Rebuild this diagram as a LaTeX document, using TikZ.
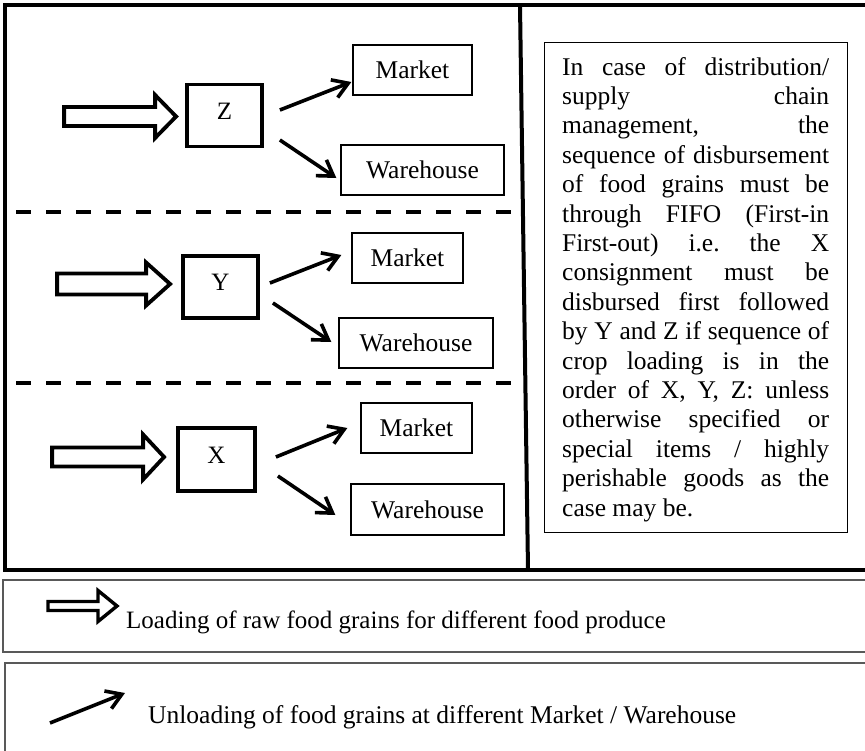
\documentclass[tikz,border=0pt]{standalone}
\usepackage{fontspec}
\setmainfont{Liberation Serif}
\usetikzlibrary{arrows.meta,calc}

% Hollow block arrow: #1 tip, #2 total length, #3 head length,
% #4 half head width, #5 half body width, #6 line width
\newcommand\hollowarrow[6]{%
  \draw[line width=#6, line join=miter] (#1) -- ++(-#3,-#4) -- ++(0,#4-#5)
    -- ++(-#2+#3,0) -- ++(0,2*#5) -- ++(#2-#3,0) -- ++(0,#4-#5) -- cycle;}

\tikzset{
  frameline/.style={line width=4pt},
  lotbox/.style={draw, line width=3.8pt, minimum width=75pt, minimum height=62pt,
    inner sep=0pt, font=\fontsize{25}{30}\selectfont, text height=16.6pt, text depth=9pt},
  destbox/.style={draw, line width=1.3pt, minimum height=50pt, inner sep=0pt,
    font=\fontsize{25.5}{30}\selectfont},
  unload/.style={line width=3.6pt, -{Straight Barb[length=15pt,width=19pt]}},
  sepline/.style={line width=3.8pt, dash pattern=on 15pt off 15pt},
  legendframe/.style={draw=black!65, line width=1.5pt},
  notebox/.style={draw, line width=1.2pt, minimum width=303pt, minimum height=490pt,
    inner sep=0pt, anchor=north west},
}

\begin{document}
\frenchspacing
\begin{tikzpicture}[x=1pt, y=-1pt]
\useasboundingbox (0,0) rectangle (865,750);
\clip (0,0) rectangle (865,750);

% outer frame and divider
\draw[frameline] (880,5) -- (5,5) -- (5,570) -- (880,570);
\draw[frameline] (520,5) -- (528,570);

% dashed separators between lots
\draw[sepline] (16,212) -- (522,212);
\draw[sepline] (16,383) -- (524,383);

% ---- lot Z ----
\node[lotbox] (boxZ) at (224.5,115.5) {Z};
\node[destbox, minimum width=119pt] (mktZ) at (412.5,70) {Market};
\node[destbox, minimum width=163pt] (whZ) at (422.5,170) {Warehouse};
\coordinate (inZ) at ($(boxZ.west)+(-9,1)$);
\hollowarrow{inZ}{112}{21}{21.5}{9.5}{3.8pt}
\draw[unload] ($(boxZ.east)+(16,-5.5)$) -- ($(mktZ.west)+(-1,12)$);
\draw[unload] ($(boxZ.east)+(16,24.5)$) -- ($(whZ.west)+(-4,8)$);

% ---- lot Y ----
\node[lotbox] (boxY) at (220.5,287) {Y};
\node[destbox, minimum width=111pt] (mktY) at (407.5,258) {Market};
\node[destbox, minimum width=154pt] (whY) at (416,343) {Warehouse};
\coordinate (inY) at ($(boxY.west)+(-11,-3)$);
\hollowarrow{inY}{113}{24}{21.5}{10.5}{3.8pt}
\draw[unload] ($(boxY.east)+(10,-4)$) -- ($(mktY.west)+(-10,-3)$);
\draw[unload] ($(boxY.east)+(13,16)$) -- ($(whY.west)+(-7,-1)$);

% ---- lot X ----
\node[lotbox, minimum width=77pt, minimum height=63pt] (boxX) at (216.5,459.5) {X};
\node[destbox, minimum width=111pt] (mktX) at (416.5,428) {Market};
\node[destbox, minimum width=153pt, minimum height=51pt] (whX) at (427.5,509.5) {Warehouse};
\coordinate (inX) at ($(boxX.west)+(-12,-2.5)$);
\hollowarrow{inX}{112}{21}{22.5}{9.5}{3.8pt}
\draw[unload] ($(boxX.east)+(19,-2.5)$) -- ($(mktX.west)+(-13,0)$);
\draw[unload] ($(boxX.east)+(21,16.5)$) -- ($(whX.west)+(-15,5.5)$);

% ---- explanatory note ----
\node[notebox] (note) at (544,42) {};
\node[anchor=base west, inner sep=0pt] (notetext) at (562,75) {\vtop{\hsize=267pt
  \fontsize{25.5}{29.4}\selectfont
  \hbox to\hsize{In case of distribution/}
  \hbox to\hsize{supply\hfil chain}
  \hbox to\hsize{management,\hfil the}
  \hbox to\hsize{sequence of disbursement}
  \hbox to\hsize{of food grains must be}
  \hbox to\hsize{through FIFO (First-in}
  \hbox to\hsize{First-out) i.e. the X}
  \hbox to\hsize{consignment must be}
  \hbox to\hsize{disbursed first followed}
  \hbox to\hsize{by Y and Z if sequence of}
  \hbox to\hsize{crop loading is in the}
  \hbox to\hsize{order of X, Y, Z: unless}
  \hbox to\hsize{otherwise specified or}
  \hbox to\hsize{special items / highly}
  \hbox to\hsize{perishable goods as the}
  \hbox{case may be.}}};

% ---- legend ----
\draw[legendframe] (3,580) rectangle (880,652);
\draw[legendframe] (5,663) rectangle (880,770);

\node[anchor=base west, inner sep=0pt, font=\fontsize{25}{30}\selectfont] (loadtxt)
  at (126,628) {Loading of raw food grains for different food produce};
\coordinate (loadtip) at ($(loadtxt.base west)+(-9,-22)$);
\hollowarrow{loadtip}{69}{19}{15.5}{4.5}{3.4pt}

\node[anchor=base west, inner sep=0pt, font=\fontsize{25.5}{30}\selectfont] (unloadtxt)
  at (148,723) {Unloading of food grains at different Market / Warehouse};
\coordinate (ulA) at (50,723);
\coordinate (ulB) at (125,693);
\draw[unload] (ulA) -- (ulB);
\end{tikzpicture}
\end{document}
